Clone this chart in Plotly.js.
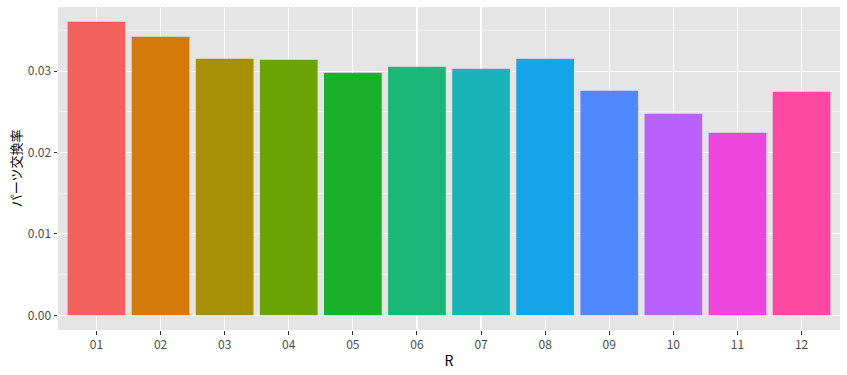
<!DOCTYPE html>
<html>
<head>
<meta charset="utf-8">
<script src="https://cdn.plot.ly/plotly-3.0.1.min.js"></script>
<style>html,body{margin:0;padding:0;background:#fff;}#chart{width:847px;height:375px;}</style>
</head>
<body>
<div id="chart"></div>
<script>
const categories = ["01","02","03","04","05","06","07","08","09","10","11","12"];
const values = [0.03606,0.03422,0.03152,0.03140,0.02980,0.03053,0.03029,0.03152,0.02758,0.02475,0.02242,0.02746];
const colors = ["#F3625D","#D57908","#A79004","#6AA305","#1AB02B","#1AB67A","#1AB4B8","#15A4E9","#5088FF","#B960FF","#EE46DC","#FC48A0"];
const yTickVals = [0, 0.01, 0.02, 0.03];
const yTickText = ["0.00", "0.01", "0.02", "0.03"];
const xTitle = "R";
const yTitle = "パーツ交換率";

const font = "'Noto Sans CJK JP', 'Noto Sans', sans-serif";
const trace = {
  type: "bar",
  x: categories,
  y: values,
  width: 0.9,
  marker: {color: colors, line: {width: 0}},
  hoverinfo: "x+y"
};
const layout = {
  width: 847, height: 375,
  margin: {l: 58, r: 7, t: 7, b: 45},
  paper_bgcolor: "#ffffff",
  plot_bgcolor: "#E5E5E5",
  showlegend: false,
  bargap: 0.1,
  font: {family: font, color: "#4d4d4d", size: 12},
  xaxis: {
    type: "category",
    range: [-0.6, 11.6],
    showgrid: true, gridcolor: "#ffffff", gridwidth: 1.1,
    zeroline: false, showline: false,
    ticks: "outside", ticklen: 3.5, tickwidth: 1, tickcolor: "#333333",
    tickfont: {family: font, size: 12, color: "#4d4d4d"},
    title: {text: xTitle, font: {family: font, size: 14, color: "#000000"}, standoff: 5}
  },
  yaxis: {
    range: [-0.0018, 0.03787],
    tickvals: yTickVals, ticktext: yTickText,
    showgrid: true, gridcolor: "#ffffff", gridwidth: 1.1,
    minor: {tickvals: [0.005, 0.015, 0.025, 0.035], showgrid: true, gridcolor: "#f5f5f5", gridwidth: 0.6, ticks: ""},
    zeroline: false, showline: false,
    ticks: "outside", ticklen: 3.5, tickwidth: 1, tickcolor: "#333333",
    tickfont: {family: font, size: 12, color: "#4d4d4d"},
    title: {text: yTitle, font: {family: font, size: 13, color: "#000000"}, standoff: 3}
  }
};
Plotly.newPlot("chart", [trace], layout, {displayModeBar: false, staticPlot: true});
</script>
</body>
</html>
